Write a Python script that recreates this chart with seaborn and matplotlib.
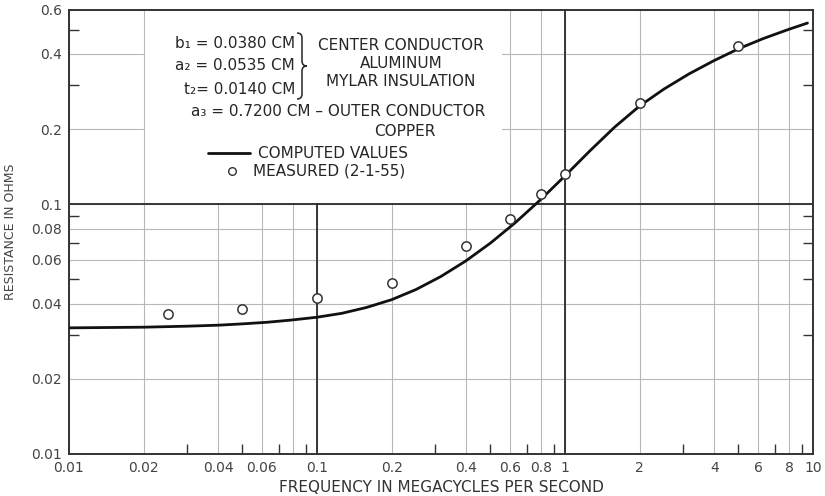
import numpy as np
import pandas as pd
import seaborn as sns
import matplotlib
matplotlib.use("Agg")
import matplotlib.pyplot as plt
from matplotlib.patches import Rectangle, PathPatch
from matplotlib.path import Path
from matplotlib.ticker import FixedLocator, FixedFormatter, NullFormatter

# ---------------- data ----------------
curve_freq = [0.01, 0.02, 0.03, 0.04, 0.05, 0.063, 0.079, 0.1, 0.126, 0.158, 0.2, 0.251,
              0.316, 0.398, 0.501, 0.631, 0.794, 1.0, 1.26, 1.585, 2.0, 2.51, 3.16, 3.98,
              5.01, 6.31, 7.94, 9.5]
curve_res = [0.0320, 0.0322, 0.0325, 0.0328, 0.0332, 0.0337, 0.0344, 0.0353, 0.0366,
             0.0386, 0.0415, 0.0456, 0.0514, 0.0593, 0.0700, 0.0845, 0.1040, 0.130,
             0.1637, 0.2037, 0.2477, 0.2897, 0.3327, 0.3758, 0.4198, 0.4613, 0.501, 0.532]

meas_freq = [0.025, 0.05, 0.1, 0.2, 0.4, 0.6, 0.8, 1.0, 2.0, 5.0]
meas_res = [0.0365, 0.0381, 0.0422, 0.0482, 0.068, 0.0876, 0.110, 0.132, 0.254, 0.432]

x_ticks = [0.01, 0.02, 0.04, 0.06, 0.08, 0.1, 0.2, 0.4, 0.6, 0.8, 1, 2, 4, 6, 8, 10]
x_tick_labels = ["0.01", "0.02", "0.04", "0.06", "", "0.1", "0.2", "0.4", "0.6", "0.8",
                 "1", "2", "4", "6", "8", "10"]
x_minor = [0.03, 0.05, 0.07, 0.09, 0.3, 0.5, 0.7, 0.9, 3, 5, 7, 9]
y_ticks = [0.01, 0.02, 0.04, 0.06, 0.08, 0.1, 0.2, 0.4, 0.6]
y_tick_labels = ["0.01", "0.02", "0.04", "0.06", "0.08", "0.1", "0.2", "0.4", "0.6"]
y_minor = [0.03, 0.05, 0.07, 0.09, 0.3, 0.5]

curve_df = pd.DataFrame({"freq": curve_freq, "res": curve_res})
meas_df = pd.DataFrame({"freq": meas_freq, "res": meas_res})

# ---------------- style ----------------
sns.set_theme(style="white")
plt.rcParams["font.family"] = ["DejaVu Sans"]
TXT = "#262626"

fig = plt.figure(figsize=(8.25, 4.96), dpi=100)
L, R, T, B = 69, 813, 10, 454
W, H = 825, 496
ax = fig.add_axes([L / W, 1 - B / H, (R - L) / W, (B - T) / H])


def px(x, y):
    """pixel position in the image -> axes fraction"""
    return (x - L) / (R - L), (B - y) / (B - T)


ax.set_xscale("log")
ax.set_yscale("log")
ax.set_xlim(0.01, 10)
ax.set_ylim(0.01, 0.6)

ax.xaxis.set_major_locator(FixedLocator(x_ticks))
ax.xaxis.set_major_formatter(FixedFormatter(x_tick_labels))
ax.xaxis.set_minor_locator(FixedLocator(x_minor))
ax.xaxis.set_minor_formatter(NullFormatter())
ax.yaxis.set_major_locator(FixedLocator(y_ticks))
ax.yaxis.set_major_formatter(FixedFormatter(y_tick_labels))
ax.yaxis.set_minor_locator(FixedLocator(y_minor))
ax.yaxis.set_minor_formatter(NullFormatter())

ax.set_axisbelow(True)
ax.grid(True, which="major", color="#b8b8b8", lw=0.8)
ax.tick_params(which="major", length=0, labelsize=10, labelcolor="#444444", pad=5)
ax.tick_params(axis="x", which="minor", direction="in", length=7, width=1,
               color="#333333", bottom=True, top=False)
ax.tick_params(axis="y", which="minor", direction="in", length=7, width=1,
               color="#333333", left=True, right=True)
for s in ax.spines.values():
    s.set_color("#333333")
    s.set_linewidth(1.4)

# heavy decade lines
ax.axvline(0.1, color="#2a2a2a", lw=1.3, zorder=1)
ax.axvline(1, color="#2a2a2a", lw=1.3, zorder=1)
ax.axhline(0.1, color="#2a2a2a", lw=1.3, zorder=1)

# white panel behind the key
x0, y0 = px(145, 203)
x1, y1 = px(502, 11)
ax.add_patch(Rectangle((x0, y0), x1 - x0, 1 - y0, transform=ax.transAxes,
                       facecolor="white", edgecolor="none", zorder=1.5))

# ---------------- data marks ----------------
sns.lineplot(data=curve_df, x="freq", y="res", ax=ax, color="#111111", lw=2.0,
             zorder=4, legend=False)
sns.scatterplot(data=meas_df, x="freq", y="res", ax=ax, marker="o", s=45,
                facecolor="white", edgecolor="#333333", linewidth=1.1, zorder=5,
                legend=False)

ax.set_xlabel("FREQUENCY IN MEGACYCLES PER SECOND", fontsize=11, color="#333333",
              labelpad=4)
ax.set_ylabel("RESISTANCE IN OHMS", fontsize=9, color="#444444", labelpad=10)

# ---------------- key text ----------------
fs = 11
eq_lines = [("b₁ = 0.0380 CM", 43), ("a₂ = 0.0535 CM", 66), ("t₂= 0.0140 CM", 89)]
for s, y in eq_lines:
    ax.text(*px(295, y), s, transform=ax.transAxes, ha="right", va="center",
            fontsize=fs, color=TXT, zorder=6)
for s, y in [("CENTER CONDUCTOR", 46), ("ALUMINUM", 63), ("MYLAR INSULATION", 81)]:
    ax.text(*px(401, y), s, transform=ax.transAxes, ha="center", va="center",
            fontsize=fs, color=TXT, zorder=6)
ax.text(*px(485, 112), "a₃ = 0.7200 CM – OUTER CONDUCTOR", transform=ax.transAxes,
        ha="right", va="center", fontsize=fs, color=TXT, zorder=6)
ax.text(*px(405, 131), "COPPER", transform=ax.transAxes, ha="center", va="center",
        fontsize=fs, color=TXT, zorder=6)
ax.text(*px(258, 153), "COMPUTED VALUES", transform=ax.transAxes, ha="left",
        va="center", fontsize=fs, color=TXT, zorder=6)
ax.text(*px(253, 171), "MEASURED (2-1-55)", transform=ax.transAxes, ha="left",
        va="center", fontsize=fs, color=TXT, zorder=6)

# key samples
(a0, b0), (a1, b1) = px(208, 153), px(250, 153)
ax.plot([a0, a1], [b0, b1], transform=ax.transAxes, color="#111111", lw=2.0, zorder=6)
ax.plot(*px(232, 171), transform=ax.transAxes, marker="o", ms=5.5, mfc="white",
        mec="#333333", mew=1.0, ls="none", zorder=6)

# brace
bx0, bxm, bx1 = 297, 302, 307
byt, bym, byb = 33, 66, 99
r = 5
verts_px = [(bx0, byt), (bxm, byt), (bxm, byt + r), (bxm, bym - r), (bxm, bym), (bx1, bym),
            (bxm, bym), (bxm, bym + r), (bxm, byb - r), (bxm, byb), (bx0, byb)]
codes = [Path.MOVETO, Path.CURVE3, Path.CURVE3, Path.LINETO, Path.CURVE3, Path.CURVE3,
         Path.CURVE3, Path.CURVE3, Path.LINETO, Path.CURVE3, Path.CURVE3]
verts = [px(x, y) for x, y in verts_px]
ax.add_patch(PathPatch(Path(verts, codes), transform=ax.transAxes, fill=False,
                       lw=1.1, edgecolor=TXT, zorder=6))

fig.savefig("out.png", dpi=100, facecolor="white")
